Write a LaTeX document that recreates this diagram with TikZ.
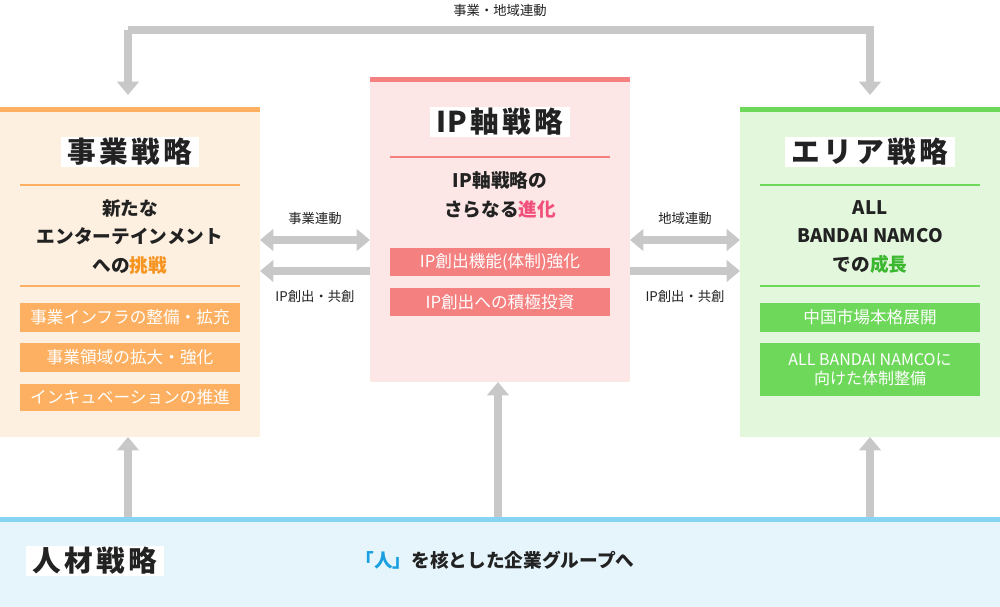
\documentclass[tikz,border=0pt]{standalone}
\usepackage{fontspec}
\setmainfont{Noto Sans CJK JP}
\usetikzlibrary{arrows.meta}
\definecolor{garr}{HTML}{C8C8C8}
\definecolor{obg}{HTML}{FEF0E0}\definecolor{oc}{HTML}{FDB061}\definecolor{otx}{HTML}{F7931E}
\definecolor{pbg}{HTML}{FDE6E6}\definecolor{pc}{HTML}{F48080}\definecolor{ptx}{HTML}{F0507A}
\definecolor{gbg}{HTML}{E3F7DC}\definecolor{gc}{HTML}{6ED85A}\definecolor{gtx}{HTML}{3CB830}
\definecolor{bbg}{HTML}{E6F5FC}\definecolor{bc}{HTML}{88D4F5}\definecolor{btx}{HTML}{1AA0E0}
\definecolor{txt}{HTML}{222222}
\tikzset{
 x=0.75pt,y=-0.75pt,
 conn/.style={draw=garr,line width=6pt,-{Triangle[width=16pt,length=10pt]}},
 dconn/.style={draw=garr,line width=6pt,{Triangle[width=16pt,length=10pt]}-{Triangle[width=16pt,length=10pt]}},
 title/.style={fill=white,inner xsep=5pt,inner ysep=1pt,font=\bfseries\fontsize{21.5}{24}\selectfont,text=txt},
 sub/.style={font=\bfseries\fontsize{14}{21.5}\selectfont,align=center,text=txt},
 bar/.style={minimum width=165pt,text=white,font=\fontsize{12.5}{14}\selectfont,align=center,inner sep=0pt},
 lab/.style={font=\fontsize{10}{12}\selectfont,text=txt},
}
\newcommand{\spc}{\hspace{0.12em}}
\begin{document}
\begin{tikzpicture}
\useasboundingbox (0,0) rectangle (1000,607);
% left box
\fill[obg] (0,107) rectangle (260,437);\fill[oc] (0,107) rectangle (260,112);
\node[title] (t1) at (130,152) {事\spc 業\spc 戦\spc 略};
\draw[oc,line width=1.5pt] (20,185)--(240,185);
\node[sub] (s1) at (130,237) {新たな\\エンターテインメント\\への\textcolor{otx}{挑戦}};
\draw[oc,line width=1.5pt] (20,286)--(240,286);
\node[bar,fill=oc,minimum height=21.75pt] (b11) at (130,317.5) {事業インフラの整備・拡充};
\node[bar,fill=oc,minimum height=21.75pt] (b12) at (130,357.5) {事業領域の拡大・強化};
\node[bar,fill=oc,minimum height=20.25pt] (b13) at (130,397.5) {インキュベーションの推進};
% middle
\fill[pbg] (370,77) rectangle (630,382);\fill[pc] (370,77) rectangle (630,82);
\node[title] (t2) at (500,122) {IP\spc 軸\spc 戦\spc 略};
\draw[pc,line width=1.5pt] (390,157)--(610,157);
\node[sub] (s2) at (500,195) {IP軸戦略の\\さらなる\textcolor{ptx}{進化}};
\node[bar,fill=pc,minimum height=21pt] (b21) at (500,262) {IP創出機能(体制)強化};
\node[bar,fill=pc,minimum height=21pt] (b22) at (500,302) {IP創出への積極投資};
% right
\fill[gbg] (740,107) rectangle (1000,437);\fill[gc] (740,107) rectangle (1000,112);
\node[title] (t3) at (870,152) {エ\spc リ\spc ア\spc 戦\spc 略};
\draw[gc,line width=1.5pt] (760,185)--(980,185);
\node[sub] (s3) at (870,237) {ALL\\BANDAI NAMCO\\での\textcolor{gtx}{成長}};
\draw[gc,line width=1.5pt] (760,286)--(980,286);
\node[bar,fill=gc,minimum height=21.75pt] (b31) at (870,317.5) {中国市場本格展開};
\node[bar,fill=gc,minimum height=39.75pt,font=\fontsize{12}{14}\selectfont] (b32) at (870,369.5) {ALL BANDAI NAMCOに\\向けた体制整備};
% bottom
\fill[bbg] (0,517) rectangle (1000,607);\fill[bc] (0,517) rectangle (1000,522);
\node[title] (t4) at (95,561) {人\spc 材\spc 戦\spc 略};
\node[font=\bfseries\fontsize{14}{16}\selectfont,text=txt] (slogan) at (495,560) {\textcolor{btx}{「人」}を核とした企業グループへ};
% coordinates
\coordinate (L1) at (128,95);\coordinate (L2) at (870,95);
\coordinate (c1) at (128,30);\coordinate (c2) at (870,30);
\node[lab] (toplab) at (500,10) {事業・地域連動};
\draw[conn] (c1) -- (L1);
\draw[conn] (c1) -- (c2) -- (L2);
\coordinate (u1) at (128,517);\coordinate (u1e) at (128,437);
\coordinate (u2) at (498,517);\coordinate (u2e) at (498,382);
\coordinate (u3) at (870,517);\coordinate (u3e) at (870,437);
\draw[conn] (u1)--(u1e);\draw[conn] (u2)--(u2e);\draw[conn] (u3)--(u3e);
\coordinate (h1a) at (260,240);\coordinate (h1b) at (370,240);
\coordinate (h2a) at (370,271);\coordinate (h2b) at (260,271);
\coordinate (h3a) at (630,240);\coordinate (h3b) at (740,240);
\coordinate (h4a) at (630,271);\coordinate (h4b) at (740,271);
\draw[dconn] (h1a)--(h1b);\draw[conn] (h2a)--(h2b);
\draw[dconn] (h3a)--(h3b);\draw[conn] (h4a)--(h4b);
\node[lab] (l1) at (315,218) {事業連動};
\node[lab] (l2) at (315,296) {IP創出・共創};
\node[lab] (l3) at (685,218) {地域連動};
\node[lab] (l4) at (685,296) {IP創出・共創};
\end{tikzpicture}
\end{document}
